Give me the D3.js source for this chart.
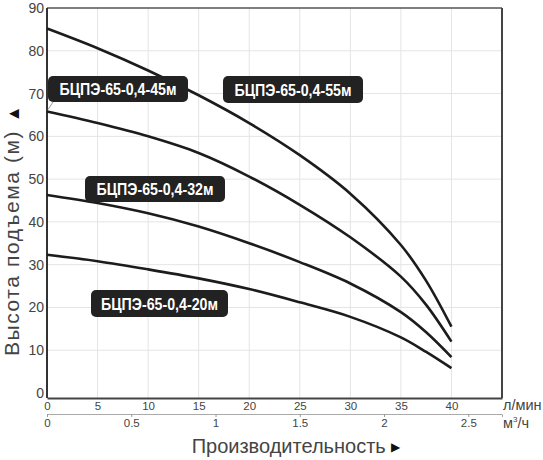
<!DOCTYPE html>
<html>
<head>
<meta charset="utf-8">
<script src="https://cdn.jsdelivr.net/npm/d3@7"></script>
<style>
body { margin: 0; background: #fff; }
svg { display: block; font-family: Arial, "Liberation Sans", sans-serif; }
</style>
</head>
<body>
<svg width="543" height="460"></svg>
<script>
// flow in l/min, head in m
var flow   = [0, 5, 10, 15, 20, 25, 30, 35, 37.5, 40];
var head55 = [85.2, 80.6, 75.4, 69.6, 63.1, 55.6, 46.6, 34.6, 26.2, 15.5];
var head45 = [65.8, 63.1, 60.0, 56.1, 50.6, 44.0, 36.4, 27.2, 20.6, 12.0];
var head32 = [46.3, 44.4, 42.0, 38.9, 35.0, 30.6, 25.6, 18.9, 14.2, 8.4];
var head20 = [32.3, 30.8, 28.9, 26.8, 24.3, 21.2, 17.8, 13.0, 9.6, 5.8];
var seriesNames = ['БЦПЭ-65-0,4-55м', 'БЦПЭ-65-0,4-45м', 'БЦПЭ-65-0,4-32м', 'БЦПЭ-65-0,4-20м'];

var yTicks = [0, 10, 20, 30, 40, 50, 60, 70, 80, 90];
var lminTicks = [0, 5, 10, 15, 20, 25, 30, 35, 40];
var m3hTicks = [0, 0.5, 1, 1.5, 2, 2.5];

// label boxes (pixels), same order as seriesNames
var labelBoxes = [
  {x: 223, y: 76, w: 140, h: 27},
  {x: 48, y: 76, w: 140, h: 26},
  {x: 85, y: 176, w: 140, h: 26},
  {x: 91, y: 290, w: 137, h: 27}
];

var svg = d3.select('svg');
// note: "top" is taken by window.top, so plot edges get their own names
var plotL = 47, plotR = 502, plotT = 8, plotB = 398;

var x = d3.scaleLinear().domain([0, 45]).range([plotL, plotR]);
var x2 = d3.scaleLinear().domain([0, 2.7]).range([plotL, plotR]);
var y = d3.scaleLinear().domain([0, 90]).range([393, plotT]);

// grid
svg.append('g').selectAll('line')
  .data(lminTicks.filter(function(d) { return d > 0; }))
  .enter().append('line')
  .attr('x1', function(d) { return x(d); })
  .attr('x2', function(d) { return x(d); })
  .attr('y1', plotT).attr('y2', plotB)
  .attr('stroke', '#e4e4e4').attr('stroke-width', 1);

svg.append('g').selectAll('line')
  .data(yTicks.filter(function(d) { return d > 0 && d < 90; }))
  .enter().append('line')
  .attr('x1', plotL).attr('x2', plotR)
  .attr('y1', function(d) { return y(d); })
  .attr('y2', function(d) { return y(d); })
  .attr('stroke', '#e4e4e4').attr('stroke-width', 1);

// frame
svg.append('line').attr('x1', plotL).attr('x2', plotR).attr('y1', plotT).attr('y2', plotT)
  .attr('stroke', '#555').attr('stroke-width', 1.5);
svg.append('line').attr('x1', plotL).attr('x2', plotL).attr('y1', plotT).attr('y2', plotB)
  .attr('stroke', '#333').attr('stroke-width', 2);
svg.append('line').attr('x1', plotR).attr('x2', plotR).attr('y1', plotT).attr('y2', plotB)
  .attr('stroke', '#444').attr('stroke-width', 2);

// y axis labels
var yAxis = svg.append('g')
  .attr('transform', 'translate(' + (plotL - 3) + ',0)')
  .call(d3.axisLeft(y).tickValues(yTicks).tickSize(0).tickPadding(0));
yAxis.select('.domain').remove();
yAxis.selectAll('text').attr('font-size', 14).attr('fill', '#444')
  .attr('font-family', 'Arial, "Liberation Sans", sans-serif');

// l/min axis
var xAxis = svg.append('g')
  .attr('transform', 'translate(0,' + plotB + ')')
  .call(d3.axisBottom(x).tickValues(lminTicks).tickSize(0).tickPadding(4));
xAxis.select('.domain').attr('stroke', '#444').attr('stroke-width', 2);
xAxis.selectAll('text').attr('font-size', 11.5).attr('fill', '#444')
  .attr('font-family', 'Arial, "Liberation Sans", sans-serif');

// m3/h axis
var xAxis2 = svg.append('g')
  .attr('transform', 'translate(0,414)')
  .call(d3.axisBottom(x2).tickValues(m3hTicks).tickSize(3).tickPadding(2)
    .tickFormat(function(d) { return String(d); }));
xAxis2.select('.domain').attr('stroke', '#aaa').attr('stroke-width', 1);
xAxis2.selectAll('.tick line').attr('stroke', '#999');
xAxis2.selectAll('text').attr('font-size', 11.5).attr('fill', '#444')
  .attr('font-family', 'Arial, "Liberation Sans", sans-serif');

// units
svg.append('text').attr('x', 503).attr('y', 410).attr('font-size', 14.5).attr('fill', '#444')
  .text('л/мин');
var m3 = svg.append('text').attr('x', 503).attr('y', 428).attr('font-size', 14.5).attr('fill', '#444');
m3.append('tspan').text('м');
m3.append('tspan').attr('font-size', 8).attr('dy', -6).text('3');
m3.append('tspan').attr('dy', 6).text('/ч');

// curves
var line = d3.line()
  .x(function(d) { return x(d[0]); })
  .y(function(d) { return y(d[1]); })
  .curve(d3.curveCatmullRom.alpha(0.5));

[head55, head45, head32, head20].forEach(function(h) {
  svg.append('path')
    .datum(flow.map(function(f, i) { return [f, h[i]]; }))
    .attr('d', line)
    .attr('fill', 'none')
    .attr('stroke', '#1c1c1c')
    .attr('stroke-width', 2.6);
});

// small callout tail of the 45m label
svg.append('line')
  .attr('x1', labelBoxes[1].x + 5).attr('y1', labelBoxes[1].y + labelBoxes[1].h)
  .attr('x2', x(0) + 1).attr('y2', y(head45[0]) - 2)
  .attr('stroke', '#999').attr('stroke-width', 1);

// labels
var lab = svg.append('g').selectAll('g')
  .data(seriesNames)
  .enter().append('g');
lab.append('rect')
  .attr('x', function(d, i) { return labelBoxes[i].x; })
  .attr('y', function(d, i) { return labelBoxes[i].y; })
  .attr('width', function(d, i) { return labelBoxes[i].w; })
  .attr('height', function(d, i) { return labelBoxes[i].h; })
  .attr('rx', 5)
  .attr('fill', '#222');
lab.append('text')
  .attr('x', function(d, i) { return labelBoxes[i].x + labelBoxes[i].w / 2; })
  .attr('y', function(d, i) { return labelBoxes[i].y + labelBoxes[i].h / 2 + 6; })
  .attr('text-anchor', 'middle')
  .attr('font-size', 16.5)
  .attr('font-weight', 'bold')
  .attr('fill', '#fff')
  .attr('textLength', 117)
  .attr('lengthAdjust', 'spacingAndGlyphs')
  .text(function(d) { return d; });

// axis titles
var yt = svg.append('text')
  .attr('transform', 'translate(19,230) rotate(-90)')
  .attr('text-anchor', 'middle')
  .attr('font-size', 21)
  .attr('letter-spacing', 1.6)
  .attr('fill', '#444');
yt.append('tspan').text('Высота подъема (м) ');
yt.append('tspan').attr('fill', '#111').attr('font-size', 17).text('▲');

var xt = svg.append('text')
  .attr('x', 296).attr('y', 453)
  .attr('text-anchor', 'middle')
  .attr('font-size', 20)
  .attr('fill', '#444');
xt.append('tspan').text('Производительность ');
xt.append('tspan').attr('fill', '#111').attr('font-size', 12).attr('dy', -2).text('▶');
</script>
</body>
</html>
